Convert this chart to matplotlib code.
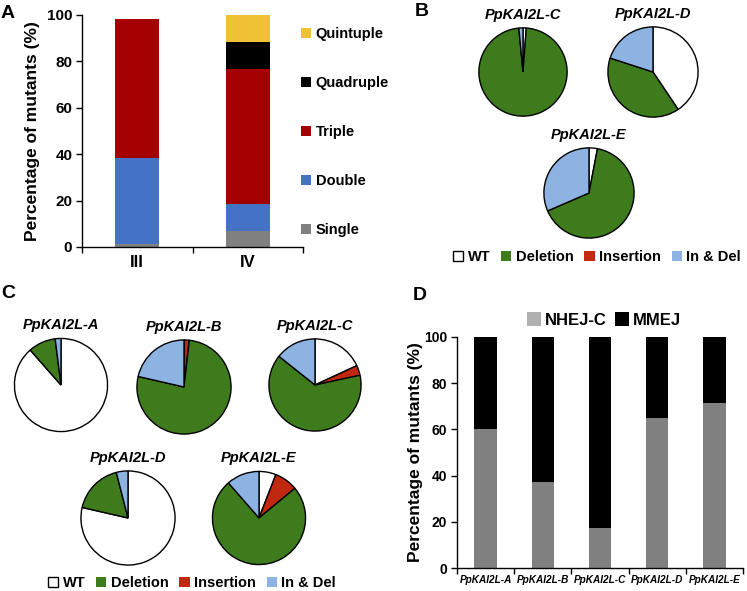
import matplotlib
matplotlib.use("Agg")
import matplotlib.pyplot as plt
from matplotlib.patches import Patch
import numpy as np

plt.rcParams['font.family'] = ['Liberation Sans', 'DejaVu Sans']

# ---------------- data ----------------
groups_A = ['III', 'IV']
single = [1.4, 6.9]
double = [37.0, 11.5]
triple = [59.9, 58.3]
quadruple = [0.0, 11.8]
quintuple = [0.0, 11.5]

b_genes = ['PpKAI2L-C', 'PpKAI2L-D', 'PpKAI2L-E']
b_wt = [1.2, 40.6, 3.0]
b_ins = [0.0, 0.0, 0.0]
b_del = [97.3, 39.4, 65.5]
b_indel = [1.5, 20.0, 31.5]

c_genes = ['PpKAI2L-A', 'PpKAI2L-B', 'PpKAI2L-C', 'PpKAI2L-D', 'PpKAI2L-E']
c_wt = [88.5, 0.0, 18.1, 78.6, 5.9]
c_ins = [0.0, 1.8, 3.5, 0.0, 8.1]
c_del = [9.5, 76.8, 64.1, 17.4, 74.6]
c_indel = [2.0, 21.4, 14.3, 4.0, 11.4]

d_genes = ['PpKAI2L-A', 'PpKAI2L-B', 'PpKAI2L-C', 'PpKAI2L-D', 'PpKAI2L-E']
nhej = [60.0, 37.1, 17.5, 65.1, 71.4]
mmej = [40.0, 62.9, 82.5, 34.9, 28.6]

# colours
C_SINGLE, C_DOUBLE, C_TRIPLE, C_QUAD, C_QUINT = '#808080', '#4472C4', '#A50000', '#000000', '#F0C035'
C_WT, C_DEL, C_INS, C_INDEL = '#FFFFFF', '#3E7B1D', '#C0280F', '#8DB3E2'
C_NHEJ, C_NHEJ_LEG, C_MMEJ = '#808080', '#B0B0B0', '#000000'

W, H = 747, 591
fig = plt.figure(figsize=(W / 100, H / 100), dpi=100)


def rect(l, t, r, b):
    return [l / W, 1 - b / H, (r - l) / W, (b - t) / H]


def style_bar_axes(ax, ncat, ysize):
    for s in ['top', 'right']:
        ax.spines[s].set_visible(False)
    for s in ['left', 'bottom']:
        ax.spines[s].set_linewidth(1.0)
    ax.set_xlim(-0.5, ncat - 0.5)
    ax.set_ylim(0, 100)
    ax.set_yticks(np.arange(0, 101, 20))
    ax.set_xticks(np.arange(ncat))
    ax.set_xticks(np.arange(-0.5, ncat, 1.0), minor=True)
    ax.tick_params(axis='x', which='major', length=0, pad=6)
    ax.tick_params(axis='x', which='minor', length=4, width=1.0, direction='out')
    ax.tick_params(axis='y', length=4, width=1.0, direction='out', labelsize=ysize, pad=3)
    for lbl in ax.get_yticklabels():
        lbl.set_fontweight('bold')


# ---------------- Panel A ----------------
axA = fig.add_axes(rect(82, 15, 303, 247))
xa = np.arange(len(groups_A))
bottom = np.zeros(len(groups_A))
series_A = [('Single', single, C_SINGLE), ('Double', double, C_DOUBLE),
            ('Triple', triple, C_TRIPLE), ('Quadruple', quadruple, C_QUAD),
            ('Quintuple', quintuple, C_QUINT)]
handles_A = []
for name, vals, col in series_A:
    v = np.array(vals)
    axA.bar(xa, v, 0.4, bottom=bottom, color=col, linewidth=0)
    bottom += v
    handles_A.append(Patch(facecolor=col, label=name))
style_bar_axes(axA, len(groups_A), 11)
axA.set_xticklabels(groups_A, fontweight='bold', fontsize=12)
axA.set_ylabel('Percentage of mutants (%)', fontsize=12.5, fontweight='bold')
axA.yaxis.set_label_coords(-42 / 221, 0.5)
fig.legend(handles=handles_A[::-1], loc='center left',
           bbox_to_anchor=(301 / W, 1 - 132 / H), frameon=False,
           prop={'weight': 'bold', 'size': 10.5}, handlelength=0.7,
           handleheight=0.7, handletextpad=0.3, labelspacing=2.4,
           borderaxespad=0, borderpad=0)


def draw_pie(cx, cy, r, wt, ins, dele, indel, title):
    ax = fig.add_axes(rect(cx - r, cy - r, cx + r, cy + r))
    vals = [wt, ins, dele, indel]
    cols = [C_WT, C_INS, C_DEL, C_INDEL]
    v2 = [v for v in vals if v > 0]
    c2 = [c for v, c in zip(vals, cols) if v > 0]
    ax.pie(v2, colors=c2, startangle=90, counterclock=False,
           wedgeprops=dict(edgecolor='black', linewidth=1.0))
    ax.set_xlim(-1.02, 1.02)
    ax.set_ylim(-1.02, 1.02)
    ax.set_aspect('equal')
    ax.set_title(title, fontsize=10.5, fontweight='bold', style='italic', pad=6)
    return ax


def pie_legend(cx, cy, colsp):
    hs = [Patch(facecolor=C_WT, edgecolor='black', linewidth=1.0, label='WT'),
          Patch(facecolor=C_DEL, label='Deletion'),
          Patch(facecolor=C_INS, label='Insertion'),
          Patch(facecolor=C_INDEL, label='In & Del')]
    fig.legend(handles=hs, loc='center', bbox_to_anchor=(cx / W, 1 - cy / H),
               ncol=4, frameon=False, prop={'weight': 'bold', 'size': 10.5},
               handlelength=0.7, handleheight=0.7, handletextpad=0.3,
               columnspacing=colsp, borderaxespad=0, borderpad=0)


# ---------------- Panel B ----------------
b_pos = [(523, 72, 45), (653, 72, 46), (589, 193, 46)]
for (cx, cy, r), g, wt, ins, de, idl in zip(b_pos, b_genes, b_wt, b_ins, b_del, b_indel):
    draw_pie(cx, cy, r, wt, ins, de, idl, g)
pie_legend(597, 257, 0.75)

# ---------------- Panel C ----------------
c_pos = [(61, 385, 47.5), (184, 387, 48), (315, 385, 47), (128, 518, 48), (259, 518, 47.5)]
for (cx, cy, r), g, wt, ins, de, idl in zip(c_pos, c_genes, c_wt, c_ins, c_del, c_indel):
    draw_pie(cx, cy, r, wt, ins, de, idl, g)
pie_legend(192, 583, 0.75)

# ---------------- Panel D ----------------
axD = fig.add_axes(rect(457, 337, 743, 568))
xd = np.arange(len(d_genes))
axD.bar(xd, nhej, 0.39, color=C_NHEJ, linewidth=0)
axD.bar(xd, mmej, 0.39, bottom=nhej, color=C_MMEJ, linewidth=0)
style_bar_axes(axD, len(d_genes), 10)
axD.set_xticklabels(d_genes, fontweight='bold', style='italic', fontsize=7.2)
axD.tick_params(axis='x', which='major', pad=5)
axD.set_ylabel('Percentage of mutants (%)', fontsize=12.5, fontweight='bold')
axD.yaxis.set_label_coords(-34 / 286, 0.5)
hd = [Patch(facecolor=C_NHEJ_LEG, label='NHEJ-C'), Patch(facecolor=C_MMEJ, label='MMEJ')]
fig.legend(handles=hd, loc='center', bbox_to_anchor=(604 / W, 1 - 320 / H), ncol=2,
           frameon=False, prop={'weight': 'bold', 'size': 12}, handlelength=0.85,
           handleheight=0.85, handletextpad=0.25, columnspacing=0.5,
           borderaxespad=0, borderpad=0)

# ---------------- panel letters ----------------
for letter, (x, y) in zip('ABCD', [(8, 13), (422, 11), (8, 293), (420, 295)]):
    fig.text(x / W, 1 - y / H, letter, fontsize=14, fontweight='bold',
             ha='center', va='center')

fig.savefig('out.png', dpi=100)
